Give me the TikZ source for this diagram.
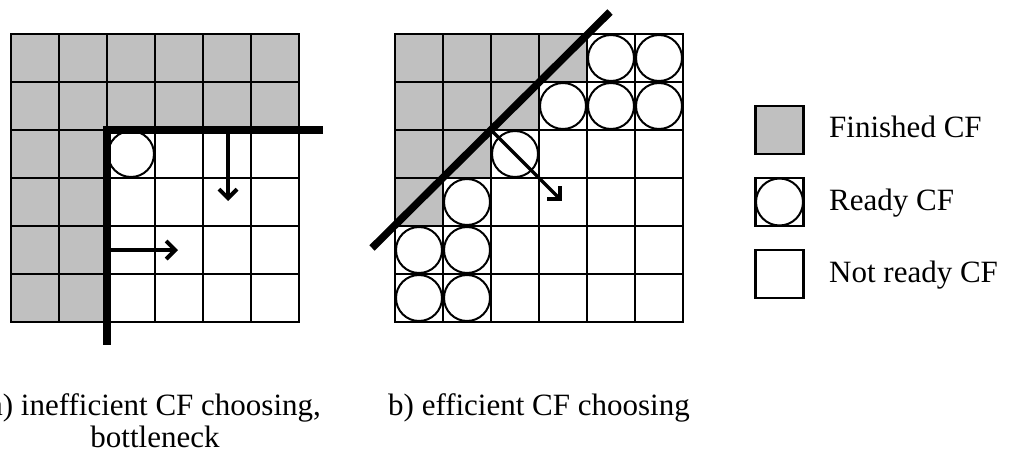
\documentclass[tikz,border=0pt]{standalone}
\usepackage{fontspec}
\setmainfont{Liberation Serif}
\usetikzlibrary{arrows.meta}
\definecolor{cellgray}{RGB}{192,192,192}
\begin{document}
\begin{tikzpicture}[x=1pt,y=-1pt,
  gridline/.style={line width=2.2pt, line cap=rect},
  readycf/.style={circle, draw, line width=2pt, fill=white, minimum size=46pt, inner sep=0pt},
  front/.style={line width=7.5pt},
  move/.style={line width=3.5pt, -{Straight Barb[length=9pt,width=18pt,line width=4pt]}},
  lbl/.style={font=\fontsize{31}{36}\selectfont, inner sep=0pt},
  legbox/.style={draw, line width=2.2pt, minimum size=48pt, inner sep=0pt}]
\useasboundingbox (0,0) rectangle (1011,452);

% ---------- left grid (a) ----------
\fill[cellgray] (11,34) rectangle (299,130);
\fill[cellgray] (11,130) rectangle (107,322);
\foreach \i in {0,...,6} {
  \draw[gridline] (11+48*\i,34) -- (11+48*\i,322);
  \draw[gridline] (11,34+48*\i) -- (299,34+48*\i);
}
\node[readycf] (la) at (131,154) {};
\coordinate (fa1) at (323,130);
\coordinate (fa2) at (107,130);
\coordinate (fa3) at (107,345);
\draw[front] (fa1) -- (fa2) -- (fa3);
\coordinate (da1) at (228,130);
\coordinate (da2) at (228,201);
\draw[move] (da1) -- (da2);
\coordinate (ra1) at (107,250);
\coordinate (ra2) at (178,250);
\draw[move] (ra1) -- (ra2);

% ---------- right grid (b) ----------
\fill[cellgray] (395,34) rectangle (587,82);
\fill[cellgray] (395,82) rectangle (539,130);
\fill[cellgray] (395,130) rectangle (491,178);
\fill[cellgray] (395,178) rectangle (443,226);
\foreach \i in {0,...,6} {
  \draw[gridline] (395+48*\i,34) -- (395+48*\i,322);
  \draw[gridline] (395,34+48*\i) -- (683,34+48*\i);
}
\foreach \c/\r in {4/0,5/0,3/1,4/1,5/1,2/2,1/3,0/4,1/4,0/5,1/5} {
  \node[readycf] (rb-\c-\r) at (419+48*\c,58+48*\r) {};
}
\coordinate (fb1) at (372,248);
\coordinate (fb2) at (610,12);
\draw[front] (fb1) -- (fb2);
\coordinate (db1) at (491,130);
\coordinate (db2) at (562,201);
\draw[move] (db1) -- (db2);

% ---------- legend ----------
\node[legbox, fill=cellgray] (lgf) at (779.5,130) {};
\node[legbox] (lgr) at (779.5,202) {};
\node[circle, draw, line width=2pt, minimum size=47pt, inner sep=0pt] (lgrc) at (lgr.center) {};
\node[legbox] (lgn) at (779.5,274) {};
\node[lbl, anchor=base west] (tf) at (829,137) {Finished CF};
\node[lbl, anchor=base west] (tr) at (829,210) {Ready CF};
\node[lbl, anchor=base west] (tn) at (829,282) {Not ready CF};

% ---------- captions ----------
\node[lbl, anchor=base] (capa1) at (155,415) {a) inefficient CF choosing,};
\node[lbl, anchor=base] (capa2) at (155,447) {bottleneck};
\node[lbl, anchor=base] (capb) at (539,415) {b) efficient CF choosing};
\end{tikzpicture}
\end{document}
